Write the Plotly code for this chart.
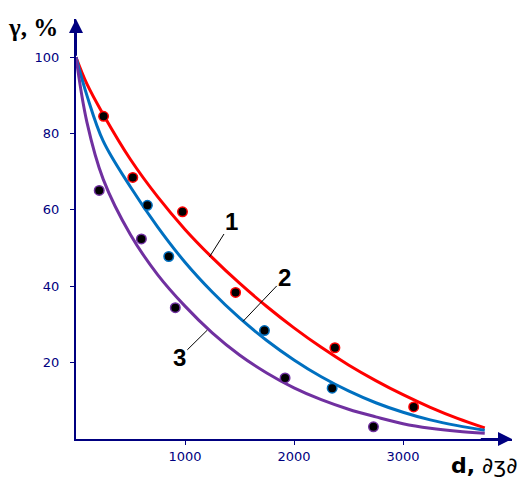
import plotly.graph_objects as go

# Fitted curves
curve_x = [0, 100, 250, 500, 750, 1000, 1250, 1500, 1750, 2000, 2250, 2500, 2750, 3000, 3250, 3500, 3750]
curve1_y = [100, 93, 85, 73.2, 63.4, 54.9, 47.5, 40.8, 34.7, 29.1, 24.0, 19.4, 15.3, 11.6, 8.3, 5.4, 2.9]
curve2_y = [100, 90, 78, 66, 55.5, 46.3, 38.5, 31.7, 25.8, 20.7, 16.3, 12.6, 9.5, 7.0, 5.0, 3.5, 2.3]
curve3_y = [100, 83, 68, 53.5, 43, 34.8, 27.8, 22, 17.3, 13.4, 10.3, 7.8, 5.8, 4.0, 2.8, 2.0, 1.5]

# Experimental points
pts1_x = [253, 521, 977, 1464, 2375, 3098]
pts1_y = [84.5, 68.5, 59.5, 38.4, 23.9, 8.4]
pts2_x = [655, 851, 1729, 2350]
pts2_y = [61.2, 47.8, 28.4, 13.3]
pts3_x = [213, 600, 911, 1918, 2729]
pts3_y = [65.1, 52.4, 34.4, 16.0, 3.2]

x_ticks = [1000, 2000, 3000]
y_ticks = [20, 40, 60, 80, 100]

RED = "#FF0000"
BLUE = "#0070C0"
PURPLE = "#7030A0"
NAVY = "#000080"

fig = go.Figure()
for cy, col in [(curve1_y, RED), (curve2_y, BLUE), (curve3_y, PURPLE)]:
    fig.add_trace(go.Scatter(x=curve_x, y=cy, mode="lines",
                             line=dict(color=col, width=3, shape="spline", smoothing=1.0),
                             showlegend=False, hoverinfo="skip"))
for px_, py_, col in [(pts1_x, pts1_y, RED), (pts2_x, pts2_y, BLUE), (pts3_x, pts3_y, PURPLE)]:
    fig.add_trace(go.Scatter(x=px_, y=py_, mode="markers",
                             marker=dict(color="black", size=9.5, line=dict(color=col, width=1.5)),
                             showlegend=False))

L, R, T, B = 76, 12, 19, 39
W, H = 524, 478
pw, ph = W - L - R, H - T - B

def px(xp):
    return (xp - L) / pw

def py(yp):
    return (H - B - yp) / ph

fig.update_layout(
    width=W, height=H,
    margin=dict(l=L, r=R, t=T, b=B),
    paper_bgcolor="white", plot_bgcolor="white",
    xaxis=dict(range=[0, 4000], showgrid=False, zeroline=False, showline=True,
               linecolor=NAVY, linewidth=2, ticks="outside", ticklen=4, tickcolor=NAVY,
               tickwidth=1, tickvals=x_ticks, ticktext=[str(v) for v in x_ticks],
               tickfont=dict(family="DejaVu Sans", size=13, color=NAVY)),
    yaxis=dict(range=[0, 110], showgrid=False, zeroline=False, showline=True,
               linecolor=NAVY, linewidth=2, ticks="outside", ticklen=4, tickcolor=NAVY,
               tickwidth=1, tickvals=y_ticks, ticktext=[str(v) for v in y_ticks],
               ticklabelstandoff=8,
               tickfont=dict(family="DejaVu Sans", size=13, color=NAVY)),
)

anns = []
# axis arrowheads
anns.append(dict(x=4000, y=0, ax=3700, ay=0, xref="x", yref="y", axref="x", ayref="y",
                 showarrow=True, arrowhead=2, arrowsize=1.4, arrowwidth=2, arrowcolor=NAVY, text=""))
anns.append(dict(x=0, y=110, ax=0, ay=100, xref="x", yref="y", axref="x", ayref="y",
                 showarrow=True, arrowhead=2, arrowsize=1.4, arrowwidth=2, arrowcolor=NAVY, text=""))
# curve labels
for lab, tip, tail in [("1", (1225, 47.7), (1431, 57.0)),
                       ("2", (1532, 30.8), (1915, 42.3)),
                       ("3", (1204, 28.5), (948, 21.3))]:
    anns.append(dict(x=tip[0], y=tip[1], ax=tail[0], ay=tail[1], xref="x", yref="y",
                     axref="x", ayref="y", text="<b>" + lab + "</b>", showarrow=True,
                     arrowhead=0, arrowwidth=1, arrowcolor="black", standoff=0,
                     font=dict(family="Liberation Sans", size=24, color="black")))
# axis titles
anns.append(dict(x=px(33), y=py(27), xref="paper", yref="paper", showarrow=False,
                 text="<b>γ, %</b>", xanchor="center", yanchor="middle",
                 font=dict(family="Liberation Serif", size=25, color="black")))
anns.append(dict(x=px(449), y=py(465), xref="paper", yref="paper", showarrow=False,
                 text="<b>d,</b> ∂ʒ∂", xanchor="left", yanchor="middle",
                 font=dict(family="DejaVu Sans", size=22, color="black")))
fig.update_layout(annotations=anns)

fig.write_html("out.html")
